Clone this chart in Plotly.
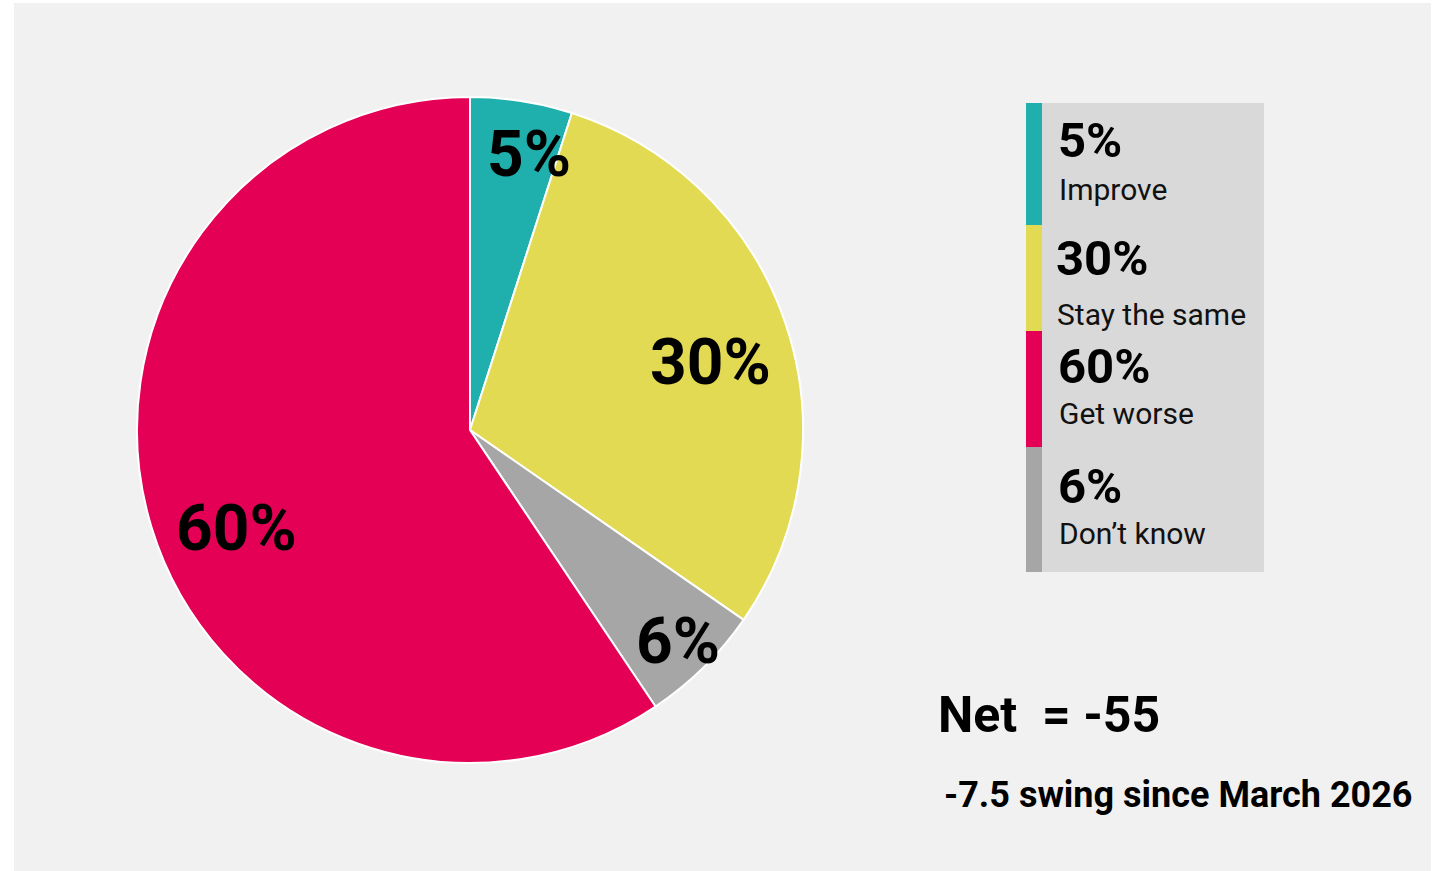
import math
import plotly.graph_objects as go

# ---- data ----
categories = ["Improve", "Stay the same", "Don\u2019t know", "Get worse"]
values = [5, 30, 6, 60]
colors = ["#1fb0ae", "#e2da52", "#a6a6a6", "#e30055"]
legend_order = ["Improve", "Stay the same", "Get worse", "Don\u2019t know"]
net_value = -55
swing_value = -7.5
swing_since = "March 2026"

W, H = 1440, 871
FONT = "Roboto"

# pie geometry (pixels)
cx, cy, R = 470, 430, 333

def px(x):
    return x / W

def py(y):
    return 1 - y / H

fig = go.Figure()
fig.add_trace(go.Pie(
    labels=categories,
    values=values,
    sort=False,
    direction="clockwise",
    rotation=0,
    marker=dict(colors=colors, line=dict(color="#ffffff", width=2)),
    textinfo="none",
    hoverinfo="label+percent",
    showlegend=False,
    domain=dict(x=[px(cx - R), px(cx + R)], y=[py(cy + R), py(cy - R)]),
))

shapes = []
annotations = []

# background panel
shapes.append(dict(type="rect", xref="paper", yref="paper",
                   x0=px(14), x1=px(1431), y0=0, y1=py(3),
                   fillcolor="#f1f1f1", line=dict(width=0), layer="below"))

# slice labels placed near each slice's bisector (radius fraction, angle nudge in degrees)
label_place = {"Improve": (0.865, 3.0), "Stay the same": (0.754, 1.7),
               "Don\u2019t know": (0.877, -0.8), "Get worse": (0.754, -4.8)}
total = sum(values)
cum = 0
for cat, v in zip(categories, values):
    frac, nudge = label_place[cat]
    mid = (cum + v / 2) / total * 2 * math.pi + math.radians(nudge)
    cum += v
    r = frac * R
    lx = cx + r * math.sin(mid)
    ly = cy - r * math.cos(mid)
    annotations.append(dict(x=px(lx), y=py(ly), xref="paper", yref="paper",
                            text=f"<b>{v}%</b>", showarrow=False, yshift=-6,
                            xanchor="center", yanchor="middle",
                            font=dict(family=FONT, size=64, color="#000000")))

# custom legend panel
shapes.append(dict(type="rect", xref="paper", yref="paper",
                   x0=px(1026), x1=px(1264), y0=py(572), y1=py(103),
                   fillcolor="#d9d9d9", line=dict(width=0), layer="below"))
strip_bounds = [(103, 225), (225, 331), (331, 447), (447, 572)]
pct_y = [140, 258, 366, 486]
lab_y = [189, 314, 413, 533]
lab_x = [1059, 1057, 1059, 1059]
for i, cat in enumerate(legend_order):
    idx = categories.index(cat)
    y0, y1 = strip_bounds[i]
    shapes.append(dict(type="rect", xref="paper", yref="paper",
                       x0=px(1026), x1=px(1042), y0=py(y1), y1=py(y0),
                       fillcolor=colors[idx], line=dict(width=0), layer="below"))
    annotations.append(dict(x=px(lab_x[i] - 3), y=py(pct_y[i]), xref="paper", yref="paper",
                            text=f"<b>{values[idx]}%</b>", showarrow=False,
                            xanchor="left", yanchor="middle",
                            font=dict(family=FONT, size=49, color="#000000")))
    annotations.append(dict(x=px(lab_x[i] - 2), y=py(lab_y[i]), xref="paper", yref="paper",
                            text=cat, showarrow=False,
                            xanchor="left", yanchor="middle",
                            font=dict(family=FONT, size=30, color="#111111")))

# net and swing text
annotations.append(dict(x=px(936), y=py(715), xref="paper", yref="paper",
                        text=f"<b>Net\u00a0\u00a0= {net_value}</b>", showarrow=False,
                        xanchor="left", yanchor="middle",
                        font=dict(family=FONT, size=50, color="#000000")))
annotations.append(dict(x=px(942), y=py(795), xref="paper", yref="paper",
                        text=f"<b>{swing_value} swing since {swing_since}</b>", showarrow=False,
                        xanchor="left", yanchor="middle",
                        font=dict(family=FONT, size=36, color="#000000")))

fig.update_layout(
    width=W, height=H,
    margin=dict(l=0, r=0, t=0, b=0),
    paper_bgcolor="#ffffff",
    plot_bgcolor="#ffffff",
    shapes=shapes,
    annotations=annotations,
    font=dict(family=FONT),
)

fig.write_html("out.html", config={"displayModeBar": False},
               post_script="document.body.style.margin='0';")
